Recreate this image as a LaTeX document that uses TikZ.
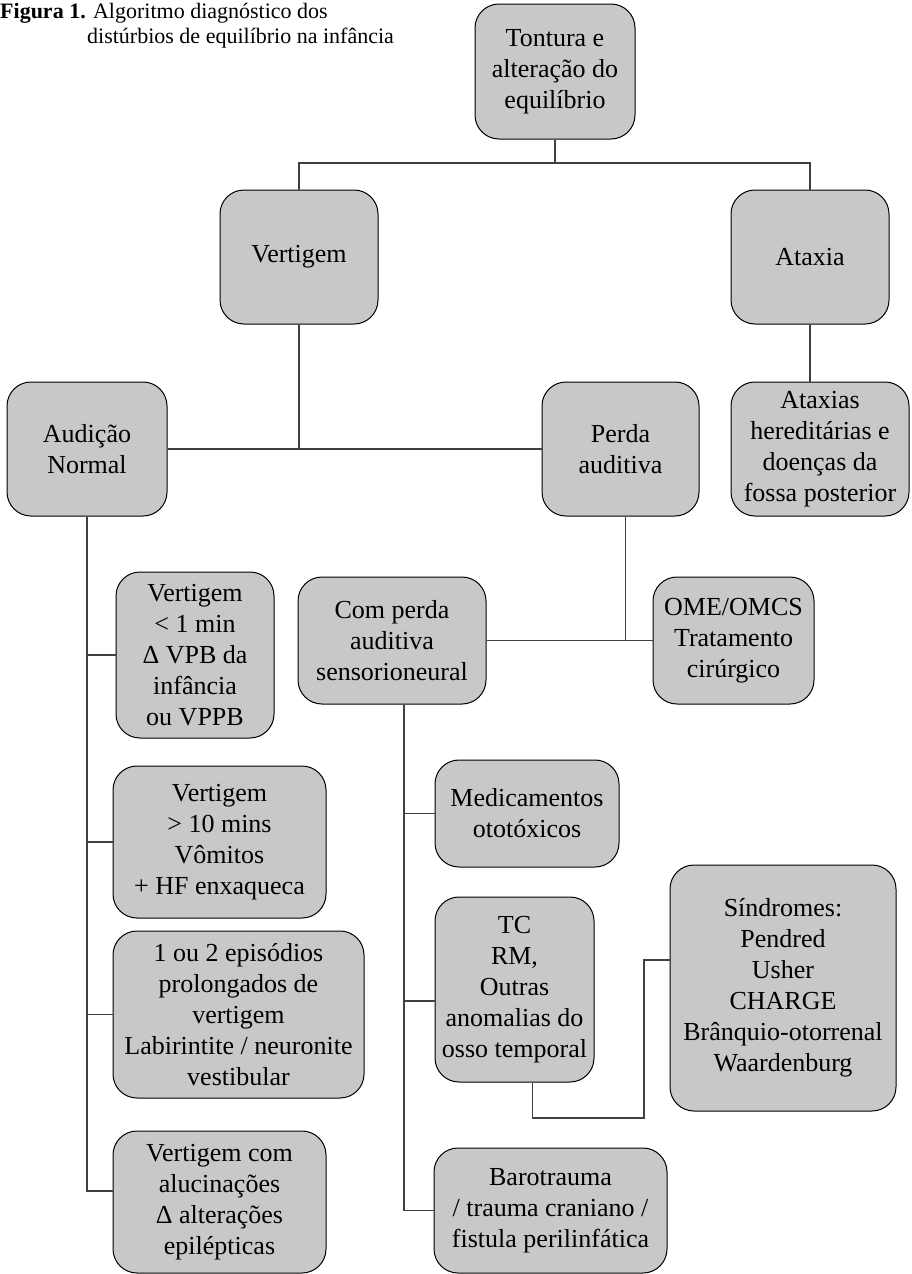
\documentclass[tikz,border=0pt]{standalone}
\usepackage{fontspec}
\setmainfont{Liberation Serif}
\usetikzlibrary{calc,positioning}
\definecolor{boxgray}{RGB}{200,200,200}
\definecolor{linegray}{RGB}{64,64,64}
\tikzset{
  box/.style={draw=black,fill=boxgray,rounded corners=24pt,line width=1pt,
    align=center,inner sep=0pt,font=\fontsize{26}{31}\selectfont},
  conn/.style={draw=linegray,line width=1.3pt},
  ttl/.style={anchor=base west,inner sep=0pt,font=\fontsize{22}{25}\selectfont}
}
\begin{document}
\begin{tikzpicture}[x=1pt,y=-1pt]
    \useasboundingbox (0,0) rectangle (911,1274);
    \node[ttl] (ttla) at (0,18) {\textbf{Figura 1.} Algoritmo diagnóstico dos};
    \node[ttl] (ttlb) at (87,43) {distúrbios de equilíbrio na infância};

    \node[box,minimum width=160pt,minimum height=135pt] (top) at (555,71.5) {Tontura e\\alteração do\\equilíbrio};
    \node[box,minimum width=158pt,minimum height=134pt] (vert) at (299,257) {Vertigem};
    \node[box,minimum width=158pt,minimum height=134pt] (atax) at (810,257) {Ataxia};
    \node[box,minimum width=160pt,minimum height=134pt] (aud) at (87,449) {Audição\\Normal};
    \node[box,minimum width=157pt,minimum height=134pt] (perda) at (620.5,449) {Perda\\auditiva};
    \node[box,minimum width=178pt,minimum height=134pt] (atxh) at (820,449) {Ataxias\\hereditárias e\\doenças da\\fossa posterior};
    \node[box,minimum width=158pt,minimum height=166pt] (v1) at (195,655) {Vertigem\\< 1 min\\Δ VPB da\\infância\\ou VPPB};
    \node[box,minimum width=188pt,minimum height=127pt] (cpas) at (392,640.5) {Com perda\\auditiva\\sensorioneural};
    \node[box,minimum width=161pt,minimum height=127pt] (ome) at (733.5,640.5) {OME/OMCS\\Tratamento\\cirúrgico};
    \node[box,minimum width=213pt,minimum height=152pt] (v10) at (219.5,842) {Vertigem\\> 10 mins\\Vômitos\\+ HF enxaqueca};
    \node[box,minimum width=184pt,minimum height=107pt] (med) at (527,813.5) {Medicamentos\\ototóxicos};
    \node[box,minimum width=251pt,minimum height=167pt] (ep12) at (238.5,1014.5) {1 ou 2 episódios\\prolongados de\\vertigem\\Labirintite / neuronite\\vestibular};
    \node[box,minimum width=159pt,minimum height=185pt] (tc) at (514.5,989.5) {TC\\RM,\\Outras\\anomalias do\\osso temporal};
    \node[box,minimum width=226pt,minimum height=246pt] (sind) at (783,988) {Síndromes:\\Pendred\\Usher\\CHARGE\\Brânquio-otorrenal\\Waardenburg};
    \node[box,minimum width=213pt,minimum height=142pt] (valu) at (219.5,1202) {Vertigem com\\alucinações\\Δ alterações\\epilépticas};
    \node[box,minimum width=233pt,minimum height=125pt] (baro) at (550.5,1210.5) {Barotrauma\\/ trauma craniano /\\fistula perilinfática};

    \coordinate (j1) at (555,163);
    \coordinate (rs) at ([xshift=12pt]cpas.south);
    \coordinate (sk) at (644,1118);

    \draw[conn] (top.south) -- (j1);
    \draw[conn] (vert.north) |- (j1) -| (atax.north);
    \draw[conn] (vert.south) -- (vert.south |- aud.east);
    \draw[conn] (aud.east) -- (perda.west);
    \draw[conn] (atax.south) -- (atax.south |- atxh.north);
    \draw[conn] (aud.south) |- ([yshift=11pt]valu.west);
    \foreach \n in {v1,v10,ep12}
      \draw[conn] (aud.south |- \n.west) -- (\n.west);
    \draw[conn] ([xshift=5pt]perda.south) -- ([xshift=5pt]perda.south |- ome.west);
    \draw[conn] (cpas.east) -- (ome.west);
    \draw[conn] (rs) |- (baro.west);
    \draw[conn] (rs |- med.west) -- (med.west);
    \draw[conn] (rs |- 0,1001) -- ([yshift=-11.5pt]tc.west);
    \draw[conn] ([xshift=18pt]tc.south) |- (sk) |- ([yshift=28pt]sind.west);
  \end{tikzpicture}
\end{document}
